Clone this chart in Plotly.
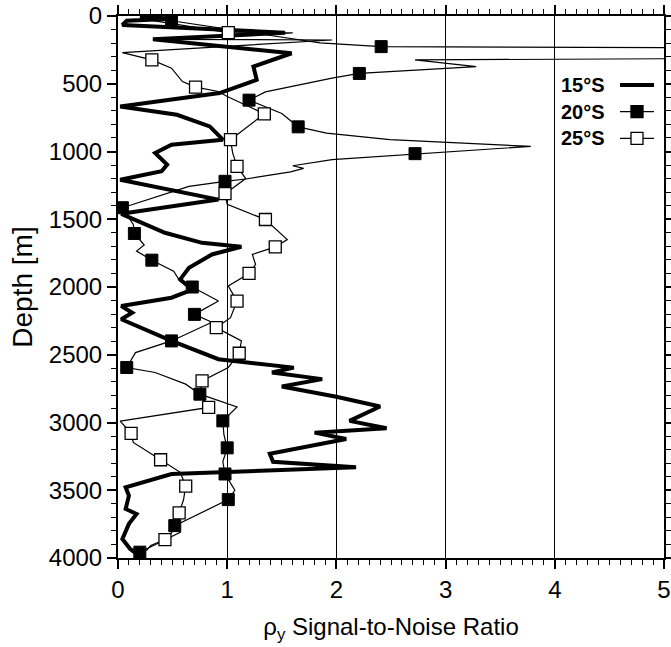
import plotly.graph_objects as go

# ---------------- data (value, depth) ----------------
s15_x = [0.20, 0.50, 0.08, 0.04, 1.53, 0.32, 1.59, 1.24, 1.27, 0.93, 0.02, 0.54, 0.84, 0.96, 0.49,
         0.34, 0.45, 0.40, 0.02, 0.92, 0.03, 0.43, 0.77, 1.13, 0.86, 0.65, 0.57, 0.68, 0.49, 0.03,
         0.13, 0.03, 0.49, 0.92, 1.61, 1.41, 1.87, 1.50, 2.00, 2.40, 2.12, 2.46, 1.80, 2.09, 1.39,
         1.42, 2.18, 0.98, 0.49, 0.07, 0.10, 0.07, 0.17, 0.10, 0.04, 0.11, 0.19]
s15_d = [5, 20, 35, 66, 123, 172, 275, 373, 471, 569, 668, 729, 815, 913, 950,
         1011, 1097, 1146, 1208, 1355, 1460, 1600, 1674, 1703, 1760, 1858, 1944, 2020, 2079, 2140,
         2190, 2238, 2398, 2533, 2595, 2631, 2680, 2734, 2810, 2882, 2988, 3043, 3075, 3122, 3230,
         3290, 3331, 3362, 3380, 3478, 3540, 3638, 3675, 3748, 3859, 3932, 3981]

s20_x = [0.35, 0.49, 1.85, 2.41, 6.0, 6.0, 2.72, 3.28, 2.21, 1.96, 1.35, 1.20, 1.50, 1.65, 1.91,
         2.49, 3.78, 2.72, 1.96, 1.60, 1.70, 1.58, 1.17, 0.98, 0.65, 0.04, 0.14, 0.15, 0.24, 0.17,
         0.31, 0.51, 0.57, 0.68, 0.92, 0.70, 0.86, 0.49, 0.16, 0.08, 0.34, 0.62, 0.75, 1.09, 0.96,
         0.97, 1.00, 0.96, 0.98, 1.07, 1.01, 0.52, 0.57, 0.20]
s20_d = [10, 35, 198, 226, 236, 312, 324, 373, 424, 459, 560, 621, 720, 818, 864,
         913, 962, 1016, 1060, 1105, 1125, 1150, 1203, 1220, 1257, 1415, 1539, 1605, 1690, 1735,
         1802, 1883, 1960, 2000, 2104, 2202, 2260, 2398, 2484, 2594, 2631, 2717, 2791, 2885, 2988,
         3090, 3187, 3290, 3380, 3500, 3569, 3761, 3810, 3957]
s20_mark_x = [0.49, 2.41, 2.21, 1.20, 1.65, 2.72, 0.98, 0.04, 0.15, 0.31, 0.68, 0.70, 0.49, 0.08,
              0.75, 0.96, 1.00, 0.98, 1.01, 0.52, 0.20]
s20_mark_d = [35, 226, 424, 621, 818, 1016, 1220, 1415, 1605, 1802, 2000, 2202, 2398, 2594,
              2791, 2988, 3187, 3380, 3569, 3761, 3957]

s25_x = [0.25, 0.60, 1.01, 1.60, 0.32, 1.96, 0.04, 0.31, 0.49, 0.59, 0.71, 0.92, 1.00, 1.34, 1.03,
         1.05, 1.09, 1.17, 0.98, 1.00, 1.35, 1.55, 1.44, 1.23, 1.26, 1.20, 1.01, 1.09, 1.03, 0.90,
         1.13, 1.11, 1.01, 0.77, 0.75, 0.83, 0.02, 0.12, 0.14, 0.39, 0.57, 0.62, 0.60, 0.56, 0.55,
         0.43, 0.30, 0.26]
s25_d = [25, 70, 123, 125, 172, 177, 270, 324, 385, 484, 525, 557, 594, 722, 913,
         1010, 1110, 1200, 1311, 1390, 1502, 1650, 1704, 1760, 1834, 1900, 1993, 2104, 2226, 2300,
         2398, 2489, 2594, 2693, 2790, 2889, 2990, 3080, 3147, 3275, 3368, 3470, 3570, 3667, 3760,
         3864, 3908, 3945]
s25_mark_x = [1.01, 0.31, 0.71, 1.34, 1.03, 1.09, 0.98, 1.35, 1.44, 1.20, 1.09, 0.90, 1.11, 0.77,
              0.83, 0.12, 0.39, 0.62, 0.56, 0.43]
s25_mark_d = [123, 324, 525, 722, 913, 1110, 1311, 1502, 1704, 1900, 2104, 2300, 2489, 2693,
              2889, 3080, 3275, 3470, 3667, 3864]

series_names = ["15°S", "20°S", "25°S"]
x_ticks = [0, 1, 2, 3, 4, 5]
y_ticks = [0, 500, 1000, 1500, 2000, 2500, 3000, 3500, 4000]

FONT = "Liberation Sans, Arial, Helvetica, sans-serif"

fig = go.Figure()
fig.add_trace(go.Scatter(x=s20_x, y=s20_d, mode="lines", line=dict(color="black", width=1.2),
                         showlegend=False, hoverinfo="skip"))
fig.add_trace(go.Scatter(x=s25_x, y=s25_d, mode="lines", line=dict(color="black", width=1.2),
                         showlegend=False, hoverinfo="skip"))
fig.add_trace(go.Scatter(x=s15_x, y=s15_d, mode="lines", line=dict(color="black", width=4),
                         showlegend=False, name=series_names[0]))
fig.add_trace(go.Scatter(x=s20_mark_x, y=s20_mark_d, mode="markers",
                         marker=dict(symbol="square", size=12, color="black",
                                     line=dict(color="black", width=1)),
                         showlegend=False, name=series_names[1]))
fig.add_trace(go.Scatter(x=s25_mark_x, y=s25_mark_d, mode="markers",
                         marker=dict(symbol="square", size=12, color="white",
                                     line=dict(color="black", width=1.3)),
                         showlegend=False, name=series_names[2]))

axis_common = dict(showline=True, linecolor="black", linewidth=2, mirror="ticks",
                   ticks="outside", ticklen=9, tickwidth=1.5, tickcolor="black",
                   zeroline=False, automargin=False,
                   tickfont=dict(family=FONT, size=24, color="black"))

fig.update_xaxes(range=[0, 5], tickvals=x_ticks, showgrid=True, gridcolor="black", gridwidth=1,
                 minor=dict(dtick=0.1, ticks="outside", ticklen=5, tickwidth=1, tickcolor="black",
                            showgrid=False),
                 title=dict(text="ρ<sub>y</sub> Signal-to-Noise Ratio",
                            font=dict(family=FONT, size=24, color="black"), standoff=16),
                 **axis_common)
fig.update_yaxes(range=[4000, 0], tickvals=y_ticks, showgrid=False,
                 minor=dict(dtick=100, ticks="outside", ticklen=5, tickwidth=1, tickcolor="black",
                            showgrid=False),
                 title=dict(text="Depth [m]", font=dict(family=FONT, size=28, color="black"),
                            standoff=8),
                 **axis_common)

# ---------------- manual legend (text left, symbol right) ----------------
L, R, T, B = 118, 7, 16, 89
W, H = 671, 647
pw, ph = W - L - R, H - T - B


def px2paper(px, py):
    return (px - L) / pw, (H - B - py) / ph


rows = [85, 111.7, 138.3]
shapes = []
annotations = []
for i, name in enumerate(series_names):
    tx, ty = px2paper(559, rows[i])
    annotations.append(dict(x=tx, y=ty, xref="paper", yref="paper", text=f"<b>{name}</b>",
                            showarrow=False, xanchor="left", yanchor="middle",
                            font=dict(family=FONT, size=20, color="black")))
    x0, y0 = px2paper(620, rows[i])
    x1, _ = px2paper(654, rows[i])
    shapes.append(dict(type="line", xref="paper", yref="paper", x0=x0, x1=x1, y0=y0, y1=y0,
                       line=dict(color="black", width=4 if i == 0 else 1.2)))
    if i > 0:
        cx0, cy0 = px2paper(631, rows[i] - 6)
        cx1, cy1 = px2paper(643, rows[i] + 6)
        shapes.append(dict(type="rect", xref="paper", yref="paper", x0=cx0, x1=cx1, y0=cy1, y1=cy0,
                           fillcolor="black" if i == 1 else "white",
                           line=dict(color="black", width=1.3)))

fig.update_layout(width=W, height=H, margin=dict(l=L, r=R, t=T, b=B, autoexpand=False),
                  plot_bgcolor="white", paper_bgcolor="white",
                  shapes=shapes, annotations=annotations, showlegend=False,
                  font=dict(family=FONT, color="black"))

fig.write_html("out.html")
